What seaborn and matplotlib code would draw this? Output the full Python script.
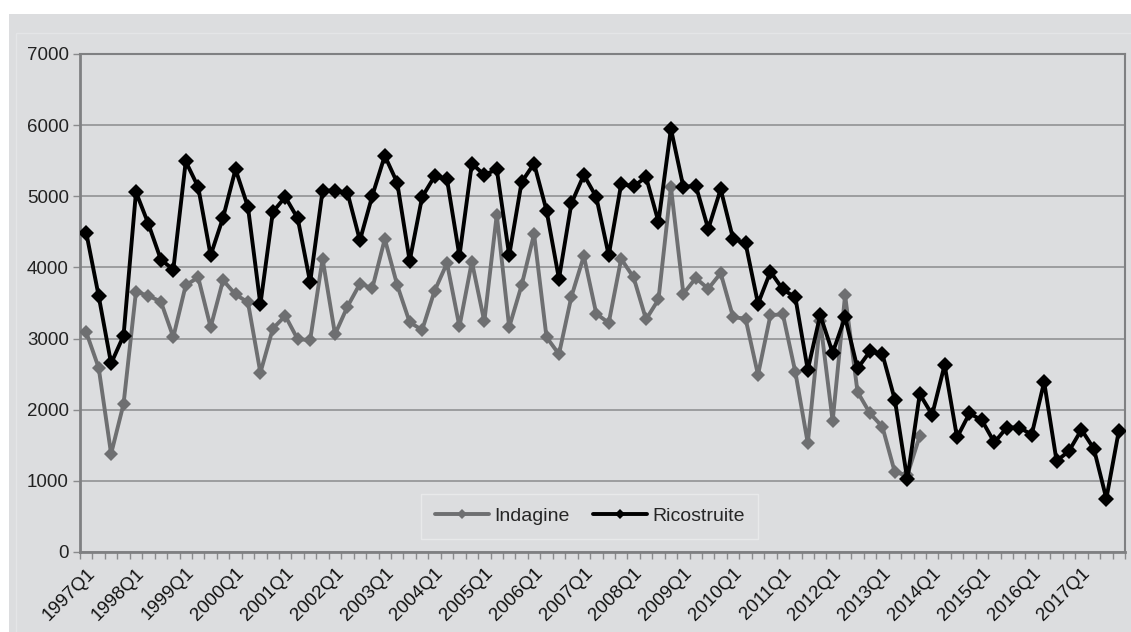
import numpy as np
import pandas as pd
import matplotlib
matplotlib.use("Agg")
import matplotlib.pyplot as plt
from matplotlib.patches import Rectangle
from matplotlib.ticker import FixedLocator, NullFormatter
import seaborn as sns

years = list(range(1997, 2018))
quarters = [f"{y}Q{q}" for y in years for q in range(1, 5)]

indagine = [
    3090, 2590, 1380, 2080, 3660, 3600, 3520, 3020, 3750, 3860, 3160, 3820,
    3620, 3510, 2520, 3140, 3320, 2990, 2980, 4120, 3060, 3450, 3770, 3710,
    4400, 3750, 3230, 3120, 3670, 4060, 3170, 4080, 3240, 4740, 3160, 3750,
    4470, 3020, 2780, 3590, 4160, 3350, 3220, 4120, 3860, 3270, 3550, 5130,
    3630, 3850, 3700, 3920, 3300, 3280, 2490, 3330, 3340, 2530, 1530, 3250,
    1840, 3610, 2250, 1950, 1760, 1120, 1080, 1630,
] + [np.nan] * 16

ricostruite = [
    4490, 3600, 2650, 3040, 5060, 4610, 4110, 3970, 5490, 5130, 4170, 4700,
    5380, 4850, 3480, 4780, 4990, 4690, 3790, 5080, 5080, 5050, 4380, 5010,
    5570, 5190, 4090, 4990, 5280, 5240, 4160, 5460, 5300, 5380, 4170, 5200,
    5460, 4800, 3840, 4900, 5300, 4990, 4170, 5170, 5140, 5270, 4640, 5950,
    5130, 5150, 4540, 5100, 4400, 4340, 3490, 3940, 3690, 3580, 2560, 3330,
    2800, 3300, 2580, 2820, 2780, 2140, 1020, 2220, 1930, 2630, 1610, 1950,
    1850, 1540, 1750, 1750, 1650, 2390, 1280, 1420, 1720, 1450, 750, 1700,
]

yticks = [0, 1000, 2000, 3000, 4000, 5000, 6000, 7000]

BG = "#DCDDDF"
GRID = "#8A8B8D"
GREY_LINE = "#6E6F71"

sns.set_style("white")
plt.rcParams["font.family"] = ["Liberation Sans", "DejaVu Sans"]

df = pd.DataFrame({"idx": np.arange(len(quarters)), "quarter": quarters,
                   "Indagine": indagine, "Ricostruite": ricostruite})

fig = plt.figure(figsize=(11.31, 6.32), dpi=100)
fig.patch.set_facecolor("white")
fig.patches.append(Rectangle((9 / 1131, 0), 1 - 9 / 1131, 1 - 14 / 632,
                             transform=fig.transFigure, facecolor=BG,
                             edgecolor="none", zorder=-10))
fig.patches.append(Rectangle((16 / 1131, -0.01), 1.1, 1 - 33 / 632 + 0.01,
                             transform=fig.transFigure, facecolor="none",
                             edgecolor="#E4E5E7", linewidth=1, zorder=-9))

ax = fig.add_axes([80 / 1131, 1 - 552 / 632, (1125 - 80) / 1131, (552 - 54) / 632])
ax.set_facecolor(BG)

sns.lineplot(data=df, x="idx", y="Indagine", ax=ax, color=GREY_LINE,
             linewidth=2.8, marker="D", markersize=7.5, markeredgewidth=0,
             label="Indagine", zorder=3)
sns.lineplot(data=df, x="idx", y="Ricostruite", ax=ax, color="black",
             linewidth=2.8, marker="D", markersize=8, markeredgewidth=0,
             label="Ricostruite", zorder=4)

ax.set_xlim(-0.5, len(quarters) - 0.5)
ax.set_ylim(0, 7000)
ax.set_yticks(yticks)
ax.set_yticklabels([str(v) for v in yticks], fontsize=13.5, color="#222222")
ax.yaxis.grid(True, color=GRID, linewidth=1.1)
ax.set_axisbelow(True)

major_pos = list(range(0, len(quarters), 4))
ax.xaxis.set_major_locator(FixedLocator(major_pos))
ax.set_xticklabels([quarters[i] for i in major_pos], rotation=45,
                   ha="right", rotation_mode="anchor", fontsize=13.5,
                   color="#111111")
ax.xaxis.set_minor_locator(FixedLocator(np.arange(-0.5, len(quarters), 1)))
ax.xaxis.set_minor_formatter(NullFormatter())
ax.tick_params(axis="x", which="major", length=0, pad=9)
ax.tick_params(axis="x", which="minor", length=5, width=1, color=GRID,
               direction="out", bottom=True)
ax.tick_params(axis="y", which="major", length=5, width=1, color=GRID,
               direction="out", left=True, pad=3)

ax.set_xlabel("")
ax.set_ylabel("")

for side, sp in ax.spines.items():
    sp.set_visible(True)
    sp.set_color("#7F8082")
    sp.set_linewidth(2 if side in ("left", "bottom") else 1.5)

leg = ax.legend(loc="center", bbox_to_anchor=(0.4876, 0.072), ncol=2,
                frameon=True, fancybox=False, fontsize=14,
                handlelength=2.8, columnspacing=1.2, borderpad=0.7,
                handletextpad=0.25, borderaxespad=0)
leg.get_frame().set_facecolor(BG)
leg.get_frame().set_edgecolor("#ECEDEE")
leg.get_frame().set_linewidth(1)
for line in leg.get_lines():
    line.set_markersize(5.5)

fig.savefig("out.png", dpi=100, facecolor=fig.get_facecolor())
